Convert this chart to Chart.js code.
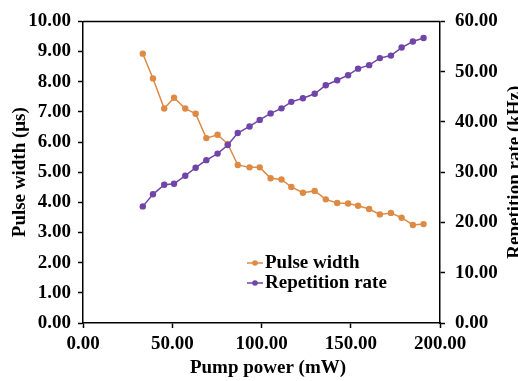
<!DOCTYPE html>
<html>
<head>
<meta charset="utf-8">
<script src="https://cdn.jsdelivr.net/npm/chart.js@4.4.0/dist/chart.umd.min.js"></script>
<style>
  html, body { margin: 0; padding: 0; background: #fff; }
  #wrap { width: 518px; height: 381px; }
</style>
</head>
<body>
<div id="wrap"><canvas id="chart" width="518" height="381"></canvas></div>
<script>
// Values
const pumpPower = [33.5, 39.2, 45.5, 51.0, 57.3, 63.1, 69.1, 75.4, 81.1, 86.7, 93.3, 99.0, 105.1, 111.2,
    116.7, 123.2, 129.8, 136.0, 142.4, 148.5, 154.1, 160.3, 166.3, 172.5, 178.5, 184.8, 190.8];
const pulseWidth = [8.93, 8.11, 7.11, 7.47, 7.11, 6.94, 6.13, 6.24, 5.94, 5.24, 5.16, 5.16, 4.80, 4.76,
    4.51, 4.32, 4.38, 4.10, 3.98, 3.96, 3.89, 3.78, 3.60, 3.65, 3.49, 3.25, 3.28];
const repRate = [23.2, 25.6, 27.5, 27.7, 29.3, 30.9, 32.4, 33.7, 35.4, 37.8, 39.1, 40.4, 41.7, 42.7,
    44.0, 44.7, 45.6, 47.3, 48.3, 49.3, 50.6, 51.3, 52.7, 53.2, 54.8, 56.0, 56.7];

const xTicks = [0, 50, 100, 150, 200];
const leftTicks = [0, 1, 2, 3, 4, 5, 6, 7, 8, 9, 10];
const rightTicks = [0, 10, 20, 30, 40, 50, 60];

const seriesNames = ['Pulse width', 'Repetition rate'];
const xTitle = 'Pump power (mW)';
const leftTitle = 'Pulse width (\u03bcs)';
const rightTitle = 'Repetition rate (kHz)';

const ORANGE = '#DD8A45';
const PURPLE = '#7044A8';
const FONT = '"Liberation Serif", "Times New Roman", serif';
const SIZE = 19;

const toPoints = (ys) => ys.map((y, i) => ({ x: pumpPower[i], y: y }));
const fixedTicks = (vals) => (scale) => { scale.ticks = vals.map(v => ({ value: v })); };

// titles, top border and the in-plot legend
const decorPlugin = {
    id: 'decor',
    afterDraw(chart) {
        const ctx = chart.ctx;
        const area = chart.chartArea;
        ctx.save();
        ctx.strokeStyle = '#000';
        ctx.lineWidth = 1.5;
        ctx.beginPath();
        ctx.moveTo(area.left, area.top);
        ctx.lineTo(area.right, area.top);
        ctx.stroke();

        ctx.fillStyle = '#000';
        ctx.font = 'bold ' + SIZE + 'px ' + FONT;
        ctx.textAlign = 'center';
        ctx.textBaseline = 'middle';
        const midY = (area.top + area.bottom) / 2;
        ctx.fillText(xTitle, 268, 368);

        ctx.save();
        ctx.translate(20, midY);
        ctx.rotate(-Math.PI / 2);
        ctx.fillText(leftTitle, 0, 0);
        ctx.restore();

        ctx.save();
        ctx.translate(515, midY);
        ctx.rotate(-Math.PI / 2);
        ctx.fillText(rightTitle, 0, 0);
        ctx.restore();

        // legend
        ctx.textAlign = 'left';
        chart.data.datasets.forEach((ds, i) => {
            const y = 263 + i * 20;
            ctx.strokeStyle = ds.borderColor;
            ctx.lineWidth = 1.5;
            ctx.beginPath();
            ctx.moveTo(247, y);
            ctx.lineTo(263, y);
            ctx.stroke();
            ctx.fillStyle = ds.borderColor;
            ctx.beginPath();
            ctx.arc(255, y, 2.8, 0, Math.PI * 2);
            ctx.fill();
            ctx.fillStyle = '#000';
            ctx.fillText(ds.label, 265, y);
        });
        ctx.restore();
    }
};

const axisStyle = {
    grid: { display: true, drawOnChartArea: false, drawTicks: true, tickLength: 5, tickColor: '#000', tickWidth: 1.5 },
    border: { display: true, color: '#000', width: 1.5 },
};
const tickFont = { family: FONT, size: SIZE, weight: 'bold' };
const fmt = (v) => Number(v).toFixed(2);

const chart = new Chart(document.getElementById('chart'), {
    type: 'line',
    data: {
        datasets: [
            {
                label: seriesNames[0],
                data: toPoints(pulseWidth),
                yAxisID: 'y',
                borderColor: ORANGE,
                backgroundColor: ORANGE,
                borderWidth: 1.5,
                pointRadius: 3.2,
                pointBorderWidth: 0,
                tension: 0,
                order: 1
            },
            {
                label: seriesNames[1],
                data: toPoints(repRate),
                yAxisID: 'y1',
                borderColor: PURPLE,
                backgroundColor: PURPLE,
                borderWidth: 1.5,
                pointRadius: 3.2,
                pointBorderWidth: 0,
                tension: 0,
                order: 0
            }
        ]
    },
    options: {
        responsive: false,
        animation: false,
        layout: { padding: { top: 18, left: 0, right: 0, bottom: 0 } },
        plugins: {
            legend: { display: false },
            tooltip: { enabled: false }
        },
        scales: {
            x: {
                type: 'linear',
                min: 0, max: 200,
                afterBuildTicks: fixedTicks(xTicks),
                afterFit: (s) => { s.height = 58; },
                ticks: { color: '#000', padding: 5, maxRotation: 0, font: tickFont, callback: fmt },
                ...axisStyle
            },
            y: {
                type: 'linear',
                position: 'left',
                min: 0, max: 10,
                afterBuildTicks: fixedTicks(leftTicks),
                afterFit: (s) => { s.width = 83; },
                ticks: { color: '#000', padding: 7, font: tickFont, callback: fmt },
                ...axisStyle
            },
            y1: {
                type: 'linear',
                position: 'right',
                min: 0, max: 60,
                afterBuildTicks: fixedTicks(rightTicks),
                afterFit: (s) => { s.width = 78; },
                ticks: { color: '#000', padding: 10, font: tickFont, callback: fmt },
                ...axisStyle
            }
        }
    },
    plugins: [decorPlugin]
});
</script>
</body>
</html>
